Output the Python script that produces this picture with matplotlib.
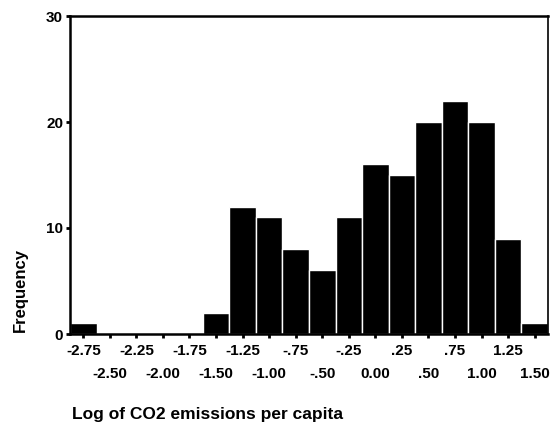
import matplotlib
matplotlib.use('Agg')
import matplotlib.pyplot as plt
import numpy as np

plt.rcParams['font.family'] = ['Liberation Sans', 'DejaVu Sans']
plt.rcParams['font.weight'] = 'bold'

# histogram bins (centres) and counts
BIN_CENTRES = [-2.75, -2.50, -2.25, -2.00, -1.75, -1.50, -1.25, -1.00, -0.75,
               -0.50, -0.25, 0.00, 0.25, 0.50, 0.75, 1.00, 1.25, 1.50]
FREQ = [1, 0, 0, 0, 0, 2, 12, 11, 8, 6, 11, 16, 15, 20, 22, 20, 9, 1]
TICK_LABELS = ['-2.75', '-2.50', '-2.25', '-2.00', '-1.75', '-1.50', '-1.25', '-1.00',
               '-.75', '-.50', '-.25', '0.00', '.25', '.50', '.75', '1.00', '1.25', '1.50']
YTICKS = [0, 10, 20, 30]

fig = plt.figure(figsize=(5.52, 4.29), dpi=100)
ax = fig.add_axes([70 / 552, 1 - 334 / 429, (548 - 70) / 552, (334 - 16) / 429])

ax.bar(BIN_CENTRES, FREQ, width=0.25, color='black', edgecolor='white', linewidth=1.0)

ax.set_xlim(-2.875, 1.625)
ax.set_ylim(0, 30)
ax.set_yticks(YTICKS)
ax.set_yticklabels([str(v) for v in YTICKS], fontsize=11, fontweight='bold')

# staggered labels: upper row on major ticks, lower row on minor ticks
ax.set_xticks(BIN_CENTRES[0::2])
ax.set_xticklabels(TICK_LABELS[0::2], fontsize=11, fontweight='bold')
ax.set_xticks(BIN_CENTRES[1::2], minor=True)
ax.set_xticklabels(TICK_LABELS[1::2], minor=True, fontsize=11, fontweight='bold')
ax.tick_params(axis='x', which='major', direction='out', length=3, width=2, pad=4)
ax.tick_params(axis='x', which='minor', direction='out', length=3, width=2, pad=21)
ax.tick_params(axis='y', direction='out', length=3, width=2, pad=2)

for s in ['left', 'top', 'bottom']:
    ax.spines[s].set_linewidth(1.8)
ax.spines['right'].set_linewidth(1.2)

fig.text(20 / 552, 1 - 290 / 429, 'Frequency', rotation=90, fontsize=12,
         fontweight='bold', ha='center', va='center')
fig.text(72 / 552, 1 - 415 / 429, 'Log of CO2 emissions per capita', fontsize=12.5,
         fontweight='bold', ha='left', va='center')

plt.savefig('out.png', dpi=100)
